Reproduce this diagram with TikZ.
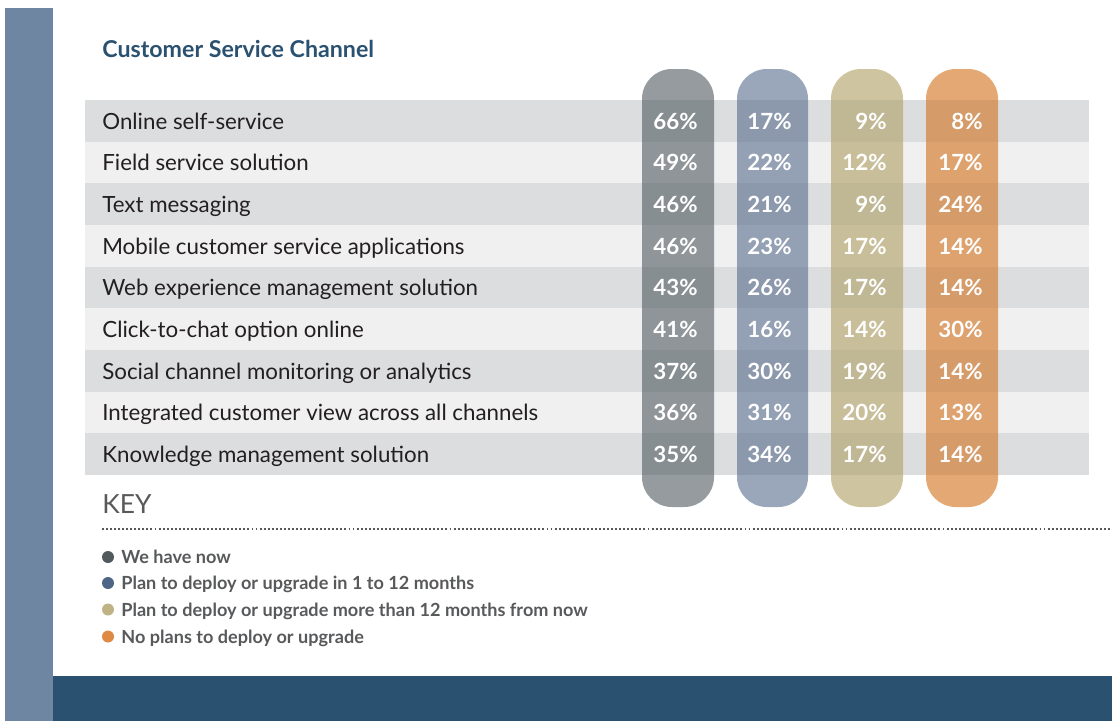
\documentclass[tikz,border=0pt]{standalone}
\usepackage{fontspec}
\setmainfont{Lato}
\definecolor{sidebar}{RGB}{111,134,162}
\definecolor{navy}{RGB}{43,81,112}
\definecolor{rowdark}{RGB}{220,221,223}
\definecolor{rowlight}{RGB}{240,240,241}
\definecolor{textdark}{RGB}{35,31,32}
\definecolor{keygray}{RGB}{88,89,91}
\definecolor{pillgray}{RGB}{84,94,99}
\definecolor{pillblue}{RGB}{92,111,142}
\definecolor{pilltan}{RGB}{176,160,102}
\definecolor{pillorange}{RGB}{210,115,31}
\definecolor{dotgray}{RGB}{83,90,94}
\definecolor{dotblue}{RGB}{79,101,133}
\definecolor{dottan}{RGB}{191,179,134}
\definecolor{dotorange}{RGB}{222,138,69}
\begin{document}
\begin{tikzpicture}[x=0.02cm,y=-0.02cm,
    rowlabel/.style={anchor=base west,inner sep=0pt,text=textdark,font=\fontsize{12.7}{14}\selectfont},
    val/.style={anchor=base east,inner sep=0pt,text=white,font=\bfseries\fontsize{12.7}{14}\selectfont},
    pill/.style={rounded corners=17pt,fill opacity=0.62},
    keyitem/.style={anchor=base west,inner sep=0pt,text=keygray,font=\bfseries\fontsize{10.3}{12}\selectfont}]
    \useasboundingbox (0,0) rectangle (1112,721);
    % Rahmen
    \fill[sidebar] (5,8) rectangle (53,721);
    \fill[navy] (53,676) rectangle (1112,721);
    \node[anchor=base west,inner sep=0pt,text=navy,font=\bfseries\fontsize{13.2}{15}\selectfont] (title) at (102,57) {Customer Service Channel};

    % Zeilen
    \fill[rowdark]  (85,100)    rectangle (1089,141.67);
    \fill[rowlight] (85,141.67) rectangle (1089,183.33);
    \fill[rowdark]  (85,183.33) rectangle (1089,225);
    \fill[rowlight] (85,225)    rectangle (1089,266.67);
    \fill[rowdark]  (85,266.67) rectangle (1089,308.33);
    \fill[rowlight] (85,308.33) rectangle (1089,350);
    \fill[rowdark]  (85,350)    rectangle (1089,391.67);
    \fill[rowlight] (85,391.67) rectangle (1089,433.33);
    \fill[rowdark]  (85,433.33) rectangle (1089,475);

    % Saeulen
    \fill[pillgray,pill]   (642,69) rectangle (714,507);
    \fill[pillblue,pill]   (737,69) rectangle (808,507);
    \fill[pilltan,pill]    (831,69) rectangle (903,507);
    \fill[pillorange,pill] (926,69) rectangle (998,507);

    % Werte
    \node[rowlabel] (L1) at (102,129) {Online self-service};
    \node[val] (A1) at (698,129) {66\%}; \node[val] (B1) at (792,129) {17\%};
    \node[val] (C1) at (887,129) {9\%};  \node[val] (D1) at (983,129) {8\%};
    \node[rowlabel] (L2) at (102,170.7) {Field service solution};
    \node[val] (A2) at (698,170.7) {49\%}; \node[val] (B2) at (792,170.7) {22\%};
    \node[val] (C2) at (887,170.7) {12\%}; \node[val] (D2) at (983,170.7) {17\%};
    \node[rowlabel] (L3) at (102,212.4) {Text messaging};
    \node[val] (A3) at (698,212.4) {46\%}; \node[val] (B3) at (792,212.4) {21\%};
    \node[val] (C3) at (887,212.4) {9\%};  \node[val] (D3) at (983,212.4) {24\%};
    \node[rowlabel] (L4) at (102,254) {Mobile customer service applications};
    \node[val] (A4) at (698,254) {46\%}; \node[val] (B4) at (792,254) {23\%};
    \node[val] (C4) at (887,254) {17\%}; \node[val] (D4) at (983,254) {14\%};
    \node[rowlabel] (L5) at (102,295.7) {Web experience management solution};
    \node[val] (A5) at (698,295.7) {43\%}; \node[val] (B5) at (792,295.7) {26\%};
    \node[val] (C5) at (887,295.7) {17\%}; \node[val] (D5) at (983,295.7) {14\%};
    \node[rowlabel] (L6) at (102,337.4) {Click-to-chat option online};
    \node[val] (A6) at (698,337.4) {41\%}; \node[val] (B6) at (792,337.4) {16\%};
    \node[val] (C6) at (887,337.4) {14\%}; \node[val] (D6) at (983,337.4) {30\%};
    \node[rowlabel] (L7) at (102,379) {Social channel monitoring or analytics};
    \node[val] (A7) at (698,379) {37\%}; \node[val] (B7) at (792,379) {30\%};
    \node[val] (C7) at (887,379) {19\%}; \node[val] (D7) at (983,379) {14\%};
    \node[rowlabel] (L8) at (102,420.7) {Integrated customer view across all channels};
    \node[val] (A8) at (698,420.7) {36\%}; \node[val] (B8) at (792,420.7) {31\%};
    \node[val] (C8) at (887,420.7) {20\%}; \node[val] (D8) at (983,420.7) {13\%};
    \node[rowlabel] (L9) at (102,462.4) {Knowledge management solution};
    \node[val] (A9) at (698,462.4) {35\%}; \node[val] (B9) at (792,462.4) {34\%};
    \node[val] (C9) at (887,462.4) {17\%}; \node[val] (D9) at (983,462.4) {14\%};

    % Legende
    \node[anchor=base west,inner sep=0pt,text=keygray,font=\fontsize{15}{18}\selectfont] (key) at (102,513) {KEY};
    \coordinate (P) at (102,529);
    \coordinate (Q) at (1112,529);
    \draw[keygray,line width=1.1pt,dash pattern=on 1.1pt off 1.2pt] (P) -- (Q);
    \fill[dotgray]   (108,557) circle (6);
    \node[keyitem] (K1) at (121,563.5) {We have now};
    \fill[dotblue]   (108,583) circle (6);
    \node[keyitem] (K2) at (121,589.5) {Plan to deploy or upgrade in 1 to 12 months};
    \fill[dottan]    (108,609.5) circle (6);
    \node[keyitem] (K3) at (121,616) {Plan to deploy or upgrade more than 12 months from now};
    \fill[dotorange] (108,636.5) circle (6);
    \node[keyitem] (K4) at (121,643) {No plans to deploy or upgrade};
\end{tikzpicture}
\end{document}
